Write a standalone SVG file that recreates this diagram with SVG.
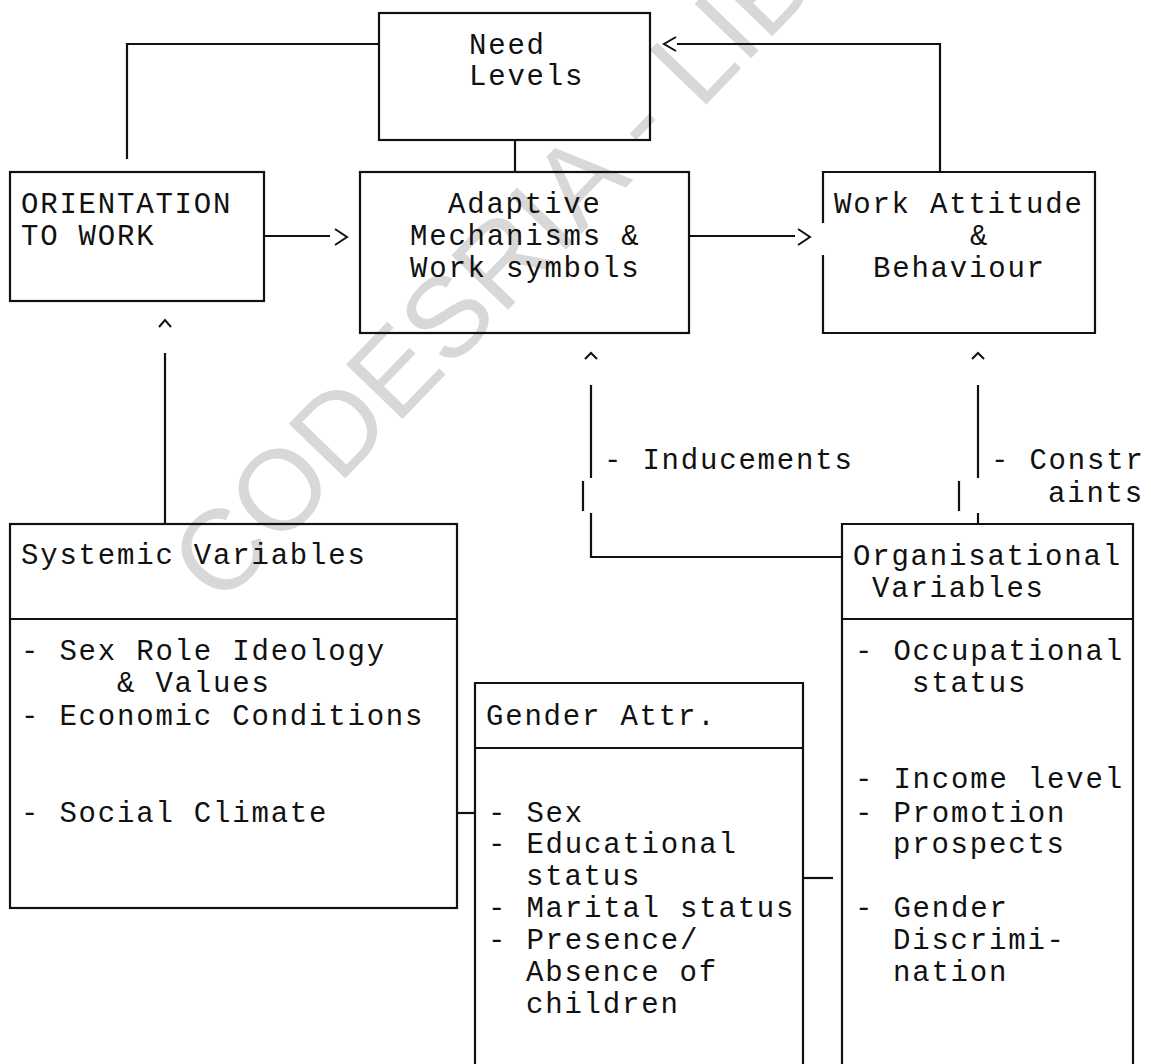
<svg xmlns="http://www.w3.org/2000/svg" width="1151" height="1064" viewBox="0 0 1151 1064">
<style>
  .bx { fill: none; stroke: #111; stroke-width: 2.2; }
  .ln { fill: none; stroke: #111; stroke-width: 2.2; }
  .hd { fill: none; stroke: #111; stroke-width: 2; stroke-linejoin: miter; }
  .t { font-family: "Liberation Mono", "DejaVu Sans Mono", monospace; font-size: 29px; letter-spacing: 1.8px; fill: #111; }
  .wm { font-family: "Liberation Sans", Arial, sans-serif; font-size: 114px; fill: #d8d8d8; }
</style>
<rect width="1151" height="1064" fill="#ffffff"/>
<g id="watermark">
  <text class="wm" transform="translate(220,608) rotate(-46)">CODESRIA - LIB</text>
</g>
<g id="connectors">
  <polyline class="ln" points="379,44 127,44 127,159"/>
  <polyline class="ln" points="940,172 940,44 677,44"/>
  <polyline class="hd" points="676,37 664,44 676,51"/>
  <line class="ln" x1="515" y1="140" x2="515" y2="172"/>
  <line class="ln" x1="264" y1="236" x2="330" y2="236"/>
  <polyline class="hd" points="335,229 347,237 335,245"/>
  <line class="ln" x1="689" y1="236" x2="795" y2="236"/>
  <polyline class="hd" points="798,229 810,237 798,245"/>
  <polyline class="hd" points="159,327 165,320 171,327"/>
  <line class="ln" x1="165" y1="353" x2="165" y2="524"/>
  <polyline class="hd" points="585,359 591,353 597,359"/>
  <line class="ln" x1="591" y1="385" x2="591" y2="478"/>
  <line class="ln" x1="583" y1="481" x2="583" y2="511"/>
  <polyline class="ln" points="591,513 591,557 842,557"/>
  <text class="t" x="604" y="469">- Inducements</text>
  <polyline class="hd" points="972,359 978,353 984,359"/>
  <line class="ln" x1="978" y1="385" x2="978" y2="478"/>
  <line class="ln" x1="959" y1="481" x2="959" y2="511"/>
  <line class="ln" x1="978" y1="513" x2="978" y2="524"/>
  <text class="t" x="991" y="469">- Constr</text>
  <text class="t" x="1048" y="502">aints</text>
  <line class="ln" x1="457" y1="813" x2="475" y2="813"/>
  <line class="ln" x1="803" y1="878" x2="833" y2="878"/>
</g>
<g id="need-levels">
  <rect class="bx" x="379" y="13" width="271" height="127"/>
  <text class="t" x="469" y="54">Need</text>
  <text class="t" x="469" y="85">Levels</text>
</g>
<g id="orientation">
  <rect class="bx" x="10" y="172" width="254" height="129"/>
  <text class="t" x="21" y="213">ORIENTATION</text>
  <text class="t" x="21" y="245">TO WORK</text>
</g>
<g id="adaptive">
  <rect class="bx" x="360" y="172" width="329" height="161"/>
  <text class="t" x="448" y="213">Adaptive</text>
  <text class="t" x="410" y="245">Mechanisms &amp;</text>
  <text class="t" x="410" y="277">Work symbols</text>
</g>
<g id="work-attitude">
  <path class="bx" d="M823,223 V172 H1095 V333 H823 V255"/>
  <text class="t" x="834" y="213">Work Attitude</text>
  <text class="t" x="970" y="245">&amp;</text>
  <text class="t" x="873" y="277">Behaviour</text>
</g>
<g id="systemic">
  <rect class="bx" x="10" y="524" width="447" height="384"/>
  <line class="ln" x1="10" y1="619" x2="457" y2="619"/>
  <text class="t" x="21" y="564">Systemic Variables</text>
  <text class="t" x="21" y="660">- Sex Role Ideology</text>
  <text class="t" x="117" y="692">&amp; Values</text>
  <text class="t" x="21" y="725">- Economic Conditions</text>
  <text class="t" x="21" y="822">- Social Climate</text>
</g>
<g id="gender">
  <path class="bx" d="M475,1066 V683 H803 V1066"/>
  <line class="ln" x1="475" y1="748" x2="803" y2="748"/>
  <text class="t" x="486" y="725">Gender Attr.</text>
  <text class="t" x="488" y="822">- Sex</text>
  <text class="t" x="488" y="853">- Educational</text>
  <text class="t" x="526" y="885">status</text>
  <text class="t" x="488" y="917">- Marital status</text>
  <text class="t" x="488" y="949">- Presence/</text>
  <text class="t" x="526" y="981">Absence of</text>
  <text class="t" x="526" y="1013">children</text>
</g>
<g id="organisational">
  <path class="bx" d="M842,1066 V524 H1133 V1066"/>
  <line class="ln" x1="842" y1="619" x2="1133" y2="619"/>
  <text class="t" x="853" y="565">Organisational</text>
  <text class="t" x="872" y="597">Variables</text>
  <text class="t" x="855" y="660">- Occupational</text>
  <text class="t" x="912" y="692">status</text>
  <text class="t" x="855" y="788">- Income level</text>
  <text class="t" x="855" y="822">- Promotion</text>
  <text class="t" x="893" y="853">prospects</text>
  <text class="t" x="855" y="917">- Gender</text>
  <text class="t" x="893" y="949">Discrimi-</text>
  <text class="t" x="893" y="981">nation</text>
</g>
</svg>
